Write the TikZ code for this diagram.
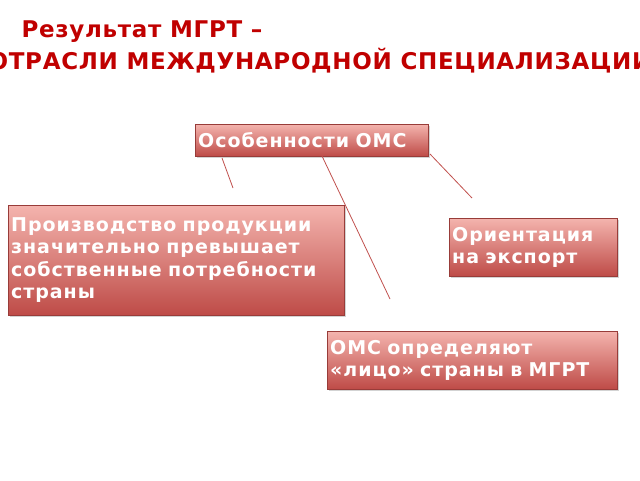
\documentclass[tikz,border=0pt]{standalone}
\usepackage{fontspec}
\setmainfont{DejaVu Sans}
\usetikzlibrary{shadows}
\definecolor{titlered}{HTML}{C00000}
\definecolor{boxtop}{HTML}{F4B4AE}
\definecolor{boxbot}{HTML}{BE4B47}
\definecolor{linered}{HTML}{C0504D}
\tikzstyle{feature} = [draw=boxbot!80!black, top color=boxtop, bottom color=boxbot,
  text=white, font=\bfseries\fontsize{19}{22.5}\selectfont\addfontfeature{LetterSpace=5},
  align=left, anchor=north west,
  inner sep=3pt, drop shadow={opacity=0.35, shadow xshift=2pt, shadow yshift=-2pt}]
\tikzstyle{spoke} = [draw=linered, thick]
\tikzstyle{heading} = [text=titlered, font=\bfseries\fontsize{23}{27}\selectfont\addfontfeature{LetterSpace=3}]
\begin{document}
\begin{tikzpicture}[x=1pt, y=-1pt]
  \useasboundingbox (0,0) rectangle (640,480);
  % title
  \node[heading, anchor=west] (t1) at (18,32) {Результат МГРТ –};
  \node[heading] (t2) at (320,61) {ОТРАСЛИ МЕЖДУНАРОДНОЙ СПЕЦИАЛИЗАЦИИ};
  % boxes
  \node[feature, minimum width=233pt, minimum height=32pt, text width=227pt] (oms) at (195,124) {Особенности ОМС};
  \node[feature, minimum width=336pt, minimum height=110pt, text width=330pt] (prod) at (8,205)
    {Производство продукции\\значительно превышает\\собственные потребности\\страны};
  \node[feature, minimum width=168pt, minimum height=58pt, text width=162pt] (exp) at (449,218)
    {Ориентация\\на экспорт};
  \node[feature, minimum width=290pt, minimum height=58pt, text width=284pt] (face) at (327,331)
    {ОМС определяют\\«лицо» страны в МГРТ};
  % spokes with free ends
  \coordinate (left-start) at (222,158);
  \coordinate (left-end) at (233,188);
  \coordinate (mid-start) at (322,156);
  \coordinate (mid-end) at (390,299);
  \coordinate (right-start) at (430,154);
  \coordinate (right-end) at (472,198);
  \foreach \name in {left, mid, right}
    \path[spoke] (\name-start) -- (\name-end);
\end{tikzpicture}
\end{document}
